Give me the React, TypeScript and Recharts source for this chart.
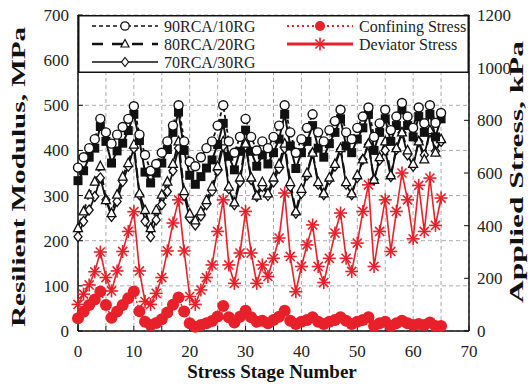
import React from 'react';
import { LineChart, Line, XAxis, YAxis, CartesianGrid, Legend } from 'recharts';

// stress stage index
const stages = [
  0, 1, 2, 3, 4, 5, 6, 7, 8, 9, 10, 11, 12, 13, 14, 15, 16, 17, 18, 19, 20, 21,
  22, 23, 24, 25, 26, 27, 28, 29, 30, 31, 32, 33, 34, 35, 36, 37, 38, 39, 40, 41, 42, 43,
  44, 45, 46, 47, 48, 49, 50, 51, 52, 53, 54, 55, 56, 57, 58, 59, 60, 61, 62, 63, 64, 65,
];

// resilient modulus, MPa
const rca90 = [
  362, 385, 405, 425, 470, 440, 415, 435, 452, 470, 498, 435, 390, 355, 370, 395, 420, 455, 500, 420, 375, 365,
  385, 405, 420, 455, 500, 420, 395, 430, 470, 430, 400, 420, 405, 430, 455, 500, 440, 395, 425, 450, 480, 440,
  420, 445, 465, 490, 440, 425, 450, 475, 495, 430, 460, 490, 445, 475, 505, 475, 450, 495, 460, 500, 461, 483,
];
const rcaSq = [
  333, 355, 385, 405, 453, 420, 372, 399, 416, 444, 480, 422, 352, 328, 350, 372, 402, 440, 485, 400, 345, 325,
  342, 361, 379, 413, 460, 387, 357, 398, 445, 398, 365, 390, 370, 395, 425, 480, 410, 360, 395, 420, 455, 405,
  385, 415, 440, 470, 410, 395, 425, 450, 480, 400, 440, 470, 420, 455, 490, 455, 430, 475, 440, 480, 430, 470,
];
const rca80 = [
  228, 265, 302, 331, 365, 290, 261, 302, 342, 372, 413, 305, 268, 228, 268, 302, 331, 370, 420, 310, 260, 245,
  265, 290, 320, 365, 420, 320, 285, 340, 415, 340, 300, 330, 305, 340, 370, 415, 330, 265, 315, 350, 395, 330,
  305, 340, 370, 405, 330, 305, 345, 380, 415, 335, 385, 420, 345, 405, 440, 400, 370, 420, 380, 445, 395, 425,
];
const rca70 = [
  209, 243, 268, 298, 339, 291, 254, 287, 331, 365, 405, 302, 243, 209, 246, 280, 309, 355, 405, 300, 250, 235,
  255, 280, 310, 355, 410, 315, 280, 330, 410, 335, 298, 320, 300, 330, 360, 405, 320, 261, 305, 345, 394, 325,
  302, 335, 365, 402, 325, 302, 340, 380, 413, 335, 379, 400, 342, 402, 439, 390, 365, 420, 390, 442, 398, 420,
];

// applied stress, kPa
const confining = [
  48, 73, 99, 120, 150, 99, 50, 74, 99, 124, 150, 75, 35, 23, 30, 45, 70, 100, 127, 74, 29, 16,
  23, 29, 38, 55, 95, 52, 32, 54, 77, 52, 35, 39, 29, 42, 54, 77, 39, 27, 35, 42, 52, 35,
  27, 35, 42, 52, 39, 27, 35, 42, 52, 19, 29, 35, 19, 29, 39, 29, 23, 27, 23, 32, 19, 19,
];
const deviator = [
  101, 140, 175, 225, 300, 203, 152, 228, 302, 378, 453, 228, 112, 101, 143, 203, 304, 410, 498, 304, 131, 101,
  156, 203, 251, 378, 498, 251, 181, 296, 454, 296, 181, 251, 207, 276, 353, 524, 283, 149, 245, 327, 403, 245,
  184, 276, 372, 448, 276, 226, 334, 454, 555, 245, 378, 498, 302, 454, 600, 498, 350, 553, 378, 581, 401, 505,
];

const xTicks = [0, 5, 10, 15, 20, 25, 30, 35, 40, 45, 50, 55, 60, 65, 70];
const leftTicks = [0, 100, 200, 300, 400, 500, 600, 700];
const rightTicks = [0, 200, 400, 600, 800, 1000, 1200];

const data = stages.map((s, i) => ({
  stage: s,
  rca90: rca90[i],
  rcaSq: rcaSq[i],
  rca80: rca80[i],
  rca70: rca70[i],
  confining: confining[i],
  deviator: deviator[i],
}));

const RED = '#e8202a';
const INK = '#111';
const FONT = '"Liberation Serif", "Times New Roman", serif';

const OpenCircle = (p: any) => (
  <circle key={`c${p.index}`} cx={p.cx} cy={p.cy} r={4.5} fill="#fff" stroke={INK} strokeWidth={1.4} />
);
const FilledSquare = (p: any) => (
  <rect key={`s${p.index}`} x={p.cx - 4.5} y={p.cy - 4.5} width={9} height={9} fill={INK} />
);
const OpenTriangle = (p: any) => (
  <path
    key={`t${p.index}`}
    d={`M${p.cx},${p.cy - 5}L${p.cx + 4.5},${p.cy + 3.5}L${p.cx - 4.5},${p.cy + 3.5}Z`}
    fill="#fff"
    stroke={INK}
    strokeWidth={1.3}
  />
);
const OpenDiamond = (p: any) => (
  <path
    key={`d${p.index}`}
    d={`M${p.cx},${p.cy - 5}L${p.cx + 4},${p.cy}L${p.cx},${p.cy + 5}L${p.cx - 4},${p.cy}Z`}
    fill="#fff"
    stroke={INK}
    strokeWidth={1.3}
  />
);
const RedDot = (p: any) => <circle key={`r${p.index}`} cx={p.cx} cy={p.cy} r={6} fill={RED} />;
const Asterisk = (p: any) => {
  const r = 6.5;
  const d = r * 0.7;
  return (
    <g key={`a${p.index}`} stroke={RED} strokeWidth={1.6}>
      <line x1={p.cx - r} y1={p.cy} x2={p.cx + r} y2={p.cy} />
      <line x1={p.cx} y1={p.cy - r} x2={p.cx} y2={p.cy + r} />
      <line x1={p.cx - d} y1={p.cy - d} x2={p.cx + d} y2={p.cy + d} />
      <line x1={p.cx - d} y1={p.cy + d} x2={p.cx + d} y2={p.cy - d} />
    </g>
  );
};

const NoTick = () => <g />;

// axis titles, stretched along the text like in the reference
const LeftTitle = () => (
  <text
    transform="translate(25,177) rotate(-90)"
    textAnchor="middle"
    fontFamily={FONT}
    fontSize={19}
    fontWeight="bold"
    fill={INK}
    textLength={300}
    lengthAdjust="spacingAndGlyphs"
  >
    Resilient Modulus, MPa
  </text>
);
const RightTitle = () => (
  <text
    transform="translate(523,172) rotate(-90)"
    textAnchor="middle"
    fontFamily={FONT}
    fontSize={19}
    fontWeight="bold"
    fill={INK}
    textLength={262}
    lengthAdjust="spacingAndGlyphs"
  >
    Applied Stress, kPa
  </text>
);
const BottomTitle = () => (
  <text x={272} y={378} textAnchor="middle" fontFamily={FONT} fontSize={19} fontWeight="bold" fill={INK}>
    Stress Stage Number
  </text>
);

// legend drawn inside the top of the plot box
const LegendBox = () => {
  const row = (y: number, x: number, dash: string, color: string, w: number, marker: React.ReactNode, label: string) => (
    <g>
      <line x1={x} y1={y} x2={x + 66} y2={y} stroke={color} strokeWidth={w} strokeDasharray={dash} />
      {marker}
      <text x={x + 72} y={y + 5.5} fontFamily={FONT} fontSize={16} fill="#222">
        {label}
      </text>
    </g>
  );
  return (
    <svg width={391} height={58} style={{ display: 'block' }}>
      <rect x={0.75} y={0.75} width={389.5} height={56.5} fill="#fff" stroke={INK} strokeWidth={1.5} />
      {row(11, 14, '4 3', INK, 1.4, <circle cx={47} cy={11} r={4.2} fill="#fff" stroke={INK} strokeWidth={1.3} />, '90RCA/10RG')}
      {row(29, 14, '11 9', INK, 2.4, <path d="M47,24.5L51,32L43,32Z" fill="#fff" stroke={INK} strokeWidth={1.2} />, '80RCA/20RG')}
      {row(47, 14, '', INK, 1.4, <path d="M47,42.5L50.5,47L47,51.5L43.5,47Z" fill="#fff" stroke={INK} strokeWidth={1.2} />, '70RCA/30RG')}
      {row(11, 209, '2 3', RED, 2.2, <circle cx={242} cy={11} r={5} fill={RED} />, 'Confining Stress')}
      {row(29, 209, '', RED, 2.8, <Asterisk cx={242} cy={29} index="leg" />, 'Deviator Stress')}
    </svg>
  );
};

const tickStyle = { fontFamily: FONT, fontSize: 17, fill: '#222' };
const axisLine = { stroke: INK, strokeWidth: 1.5 };
const tickLine = { stroke: INK, strokeWidth: 1 };

export default function App() {
  return (
    <div style={{ position: 'absolute', left: 0, top: 0, width: 531, height: 386, background: '#fff' }}>
      <LineChart width={531} height={386} data={data} margin={{ top: 15, right: 0, bottom: 0, left: 0 }}>
        <CartesianGrid stroke="#aaa" strokeDasharray="4 3" yAxisId="left" />
        <XAxis
          dataKey="stage"
          type="number"
          domain={[0, 70]}
          ticks={xTicks}
          interval={0}
          tickFormatter={(v: number) => (v % 10 === 0 ? String(v) : '')}
          tick={tickStyle}
          tickLine={tickLine}
          tickSize={-5}
          tickMargin={19}
          axisLine={axisLine}
          height={55}
          label={<BottomTitle />}
        />
        <XAxis
          xAxisId="top"
          orientation="top"
          type="number"
          domain={[0, 70]}
          dataKey="stage"
          ticks={xTicks}
          interval={0}
          height={0}
          tick={NoTick}
          tickLine={tickLine}
          tickSize={-5}
          axisLine={axisLine}
        />
        <YAxis
          yAxisId="left"
          domain={[0, 700]}
          ticks={leftTicks}
          interval={0}
          tick={tickStyle}
          tickLine={tickLine}
          tickSize={-5}
          tickMargin={14}
          axisLine={axisLine}
          width={78}
          label={<LeftTitle />}
        />
        <YAxis
          yAxisId="right"
          orientation="right"
          domain={[0, 1200]}
          ticks={rightTicks}
          interval={0}
          tick={tickStyle}
          tickLine={tickLine}
          tickSize={-5}
          tickMargin={13}
          axisLine={axisLine}
          width={62}
          label={<RightTitle />}
        />
        <Legend
          verticalAlign="middle"
          align="center"
          content={() => <LegendBox />}
          wrapperStyle={{ position: 'absolute', top: 15, left: 78, width: 391, height: 58 }}
        />
        <Line yAxisId="right" dataKey="confining" stroke={RED} strokeWidth={1.5} strokeDasharray="2 2" dot={RedDot} isAnimationActive={false} legendType="none" />
        <Line yAxisId="right" dataKey="deviator" stroke={RED} strokeWidth={1.6} dot={Asterisk} isAnimationActive={false} legendType="none" />
        <Line yAxisId="left" dataKey="rca70" stroke={INK} strokeWidth={1.8} dot={OpenDiamond} isAnimationActive={false} legendType="none" />
        <Line yAxisId="left" dataKey="rca80" stroke={INK} strokeWidth={2} strokeDasharray="10 5" dot={OpenTriangle} isAnimationActive={false} legendType="none" />
        <Line yAxisId="left" dataKey="rcaSq" stroke={INK} strokeWidth={2} dot={FilledSquare} isAnimationActive={false} legendType="none" />
        <Line yAxisId="left" dataKey="rca90" stroke={INK} strokeWidth={1.8} strokeDasharray="4 3" dot={OpenCircle} isAnimationActive={false} legendType="none" />
      </LineChart>
    </div>
  );
}
